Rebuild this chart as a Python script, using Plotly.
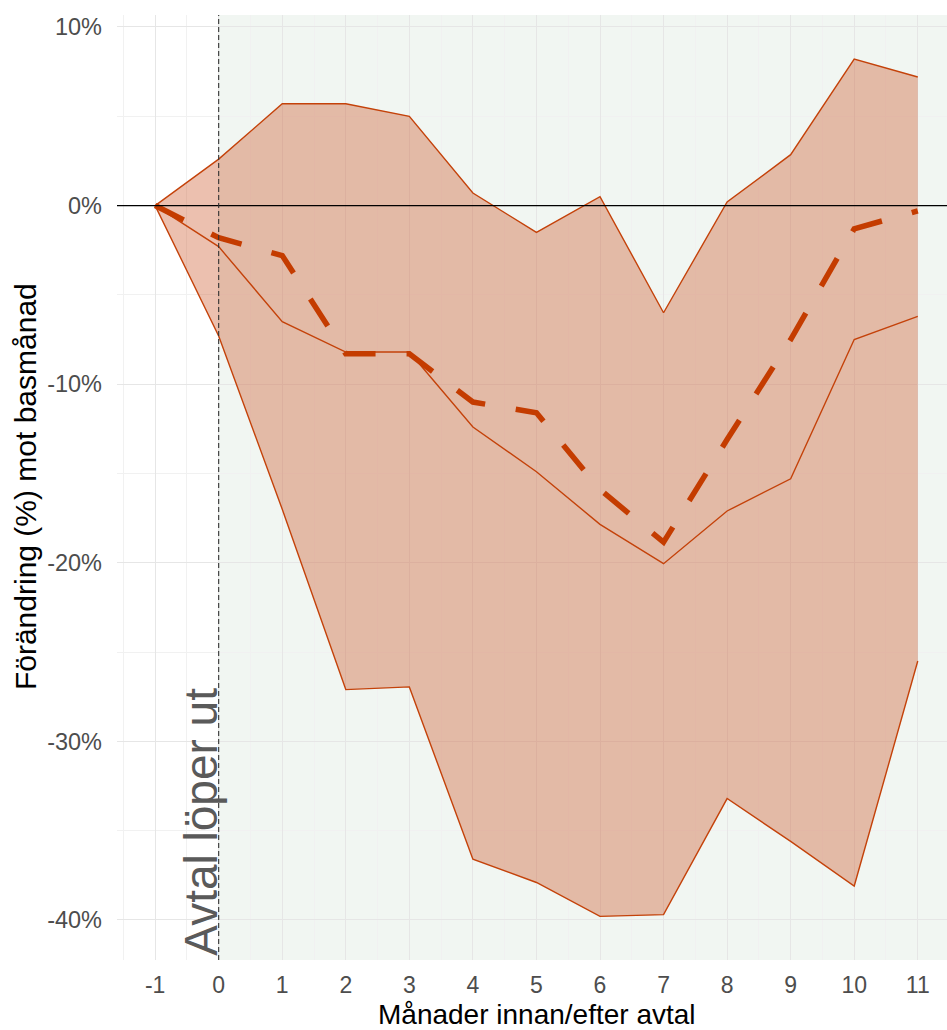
import plotly.graph_objects as go

months = [-1, 0, 1, 2, 3, 4, 5, 6, 7, 8, 9, 10, 11]
upper = [0, 2.6, 5.7, 5.7, 5.0, 0.7, -1.5, 0.5, -6.0, 0.2, 2.85, 8.2, 7.2]
lower = [0, -7.3, -17.0, -27.1, -26.95, -36.6, -37.9, -39.8, -39.7, -33.2, -35.6, -38.1, -25.5]
middle = [0, -2.3, -6.5, -8.2, -8.2, -12.4, -14.9, -17.85, -20.05, -17.1, -15.3, -7.5, -6.2]
dashed = [0, -1.8, -2.8, -8.3, -8.3, -11.0, -11.6, -15.9, -18.85, -13.1, -7.5, -1.3, -0.3]

y_ticks = [10, 0, -10, -20, -30, -40]
y_ticklabels = ["10%", "0%", "-10%", "-20%", "-30%", "-40%"]
x_ticks = months

LINE = "#C4420A"
FILL = "rgba(200,75,25,0.35)"
FONT = "Arial, Liberation Sans, sans-serif"

fig = go.Figure()

fig.add_trace(go.Scatter(x=months, y=lower, mode="lines",
                         line=dict(color=LINE, width=1.4), hoverinfo="skip", showlegend=False))
fig.add_trace(go.Scatter(x=months, y=upper, mode="lines", fill="tonexty", fillcolor=FILL,
                         line=dict(color=LINE, width=1.4), hoverinfo="skip", showlegend=False))
fig.add_trace(go.Scatter(x=months, y=middle, mode="lines",
                         line=dict(color=LINE, width=1.4), showlegend=False))
fig.add_trace(go.Scatter(x=months, y=dashed, mode="lines",
                         line=dict(color="#C43C00", width=5.5, dash="32px,31px"), showlegend=False))

# background region after agreement expiry
fig.add_shape(type="rect", xref="x", yref="paper", x0=0, x1=11.6, y0=0, y1=1,
              fillcolor="#F1F6F2", line=dict(width=0), layer="below")
# zero line
fig.add_shape(type="line", xref="paper", yref="y", x0=0, x1=1, y0=0, y1=0,
              line=dict(color="black", width=1.3), layer="above")
# vertical dashed line
fig.add_shape(type="line", xref="x", yref="paper", x0=0, x1=0, y0=0, y1=1,
              line=dict(color="#333333", width=1.1, dash="5px,3px"), layer="above")

fig.add_annotation(x=0, y=-42.24, xref="x", yref="y", text="Avtal löper ut",
                   textangle=-90, showarrow=False, xanchor="right", yanchor="bottom",
                   xshift=10, yshift=2, font=dict(family=FONT, size=46, color="#5A5A5A"))

# axis titles
fig.add_annotation(x=0.506, y=-0.0575, xref="paper", yref="paper",
                   text="Månader innan/efter avtal", showarrow=False,
                   xanchor="center", yanchor="middle",
                   font=dict(family=FONT, size=28, color="black"))
fig.add_annotation(x=-0.1108, y=0.5005, xref="paper", yref="paper",
                   text="Förändring (%) mot basmånad", showarrow=False, textangle=-90,
                   xanchor="center", yanchor="middle",
                   font=dict(family=FONT, size=30, color="black"))

fig.update_layout(
    width=947, height=1030,
    margin=dict(l=117, r=0, t=15, b=70, autoexpand=False),
    paper_bgcolor="white", plot_bgcolor="white",
    font=dict(family=FONT),
    xaxis=dict(range=[-1.6, 11.46], tickmode="array", tickvals=x_ticks,
               ticktext=[str(v) for v in x_ticks], automargin=False,
               showgrid=True, gridcolor="#E6E6E6", gridwidth=1.2, zeroline=False,
               minor=dict(dtick=0.5, tick0=-1.5, showgrid=True, gridcolor="#F1F1F1", gridwidth=1),
               tickfont=dict(size=23, color="#4D4D4D"), ticks="", ticklabelstandoff=9),
    yaxis=dict(range=[-42.24, 10.67], tickmode="array", tickvals=y_ticks, ticktext=y_ticklabels,
               automargin=False,
               showgrid=True, gridcolor="#E6E6E6", gridwidth=1.2, zeroline=False,
               minor=dict(dtick=5, tick0=-45, showgrid=True, gridcolor="#F1F1F1", gridwidth=1),
               tickfont=dict(size=23.5, color="#4D4D4D"), ticks="", ticklabelstandoff=14),
)

fig.write_html("out.html", config={"displayModeBar": False},
               post_script="document.body.style.margin='0';document.body.style.overflow='hidden';")
